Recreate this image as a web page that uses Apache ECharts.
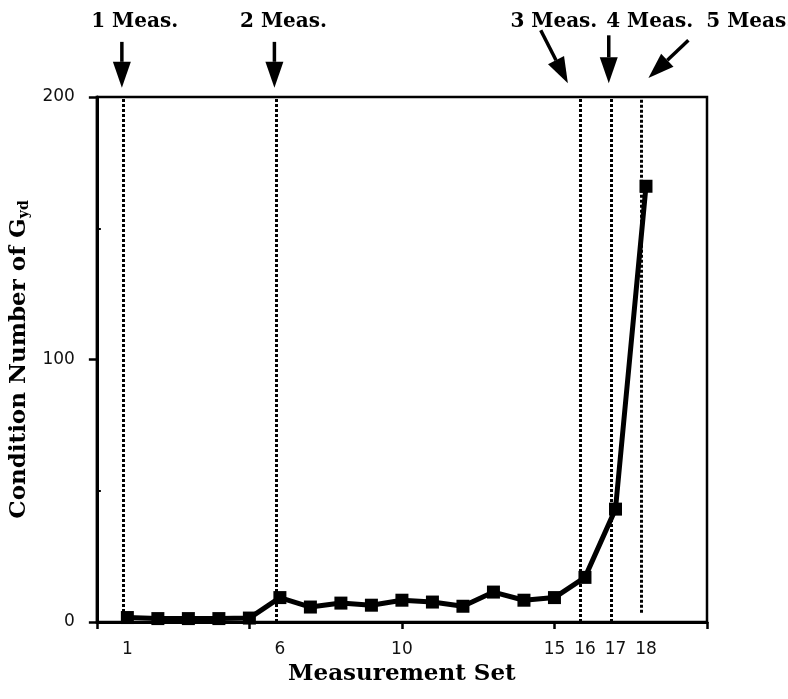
<!DOCTYPE html>
<html>
<head>
<meta charset="utf-8">
<script src="https://cdn.jsdelivr.net/npm/echarts@6/dist/echarts.min.js"></script>
<style>
  html, body { margin: 0; padding: 0; background: #fff; }
  #chart { width: 788px; height: 699px; }
</style>
</head>
<body>
<div id="chart"></div>
<script>
// Measurement sets and the condition number of G_yd for each
const measurementSets = [1, 2, 3, 4, 5, 6, 7, 8, 9, 10, 11, 12, 13, 14, 15, 16, 17, 18];
const conditionNumbers = [1.7, 1.3, 1.3, 1.3, 1.5, 9.3, 5.7, 7.2, 6.4, 8.3, 7.6, 6.0, 11.4, 8.3, 9.3, 17, 43, 166];

// Axis ticks and labels
const xTickLabels = [1, 6, 10, 15, 16, 17, 18];
const xTickMarks = [0, 5, 10, 15, 20];
const yTickLabels = [0, 100, 200];
const yMinorTicks = [50, 150];

// Dashed boundaries where a new measurement is added, with their lower ends
const boundaryX = [0.85, 5.88, 15.85, 16.85, 17.85];
const boundaryBottom = [0, 0, 0, 0, 3.5];

// Annotations above the plot: label, label anchor, arrow tail and arrow head (data units)
const annotationText = ['1 Meas.', '2 Meas.', '3 Meas.', '4 Meas.', '5 Meas.'];
const annotationAt = [[1.24, 228.5], [6.12, 228.5], [14.98, 228.5], [18.12, 228.5], [21.4, 228.5]];
const arrowTail = [[0.82, 221.0], [5.82, 221.0], [14.55, 225.4], [16.78, 223.5], [19.39, 221.6]];
const arrowHead = [[0.82, 203.5], [5.82, 203.5], [15.44, 205.2], [16.78, 205.2], [18.08, 207.2]];

const serif = '"DejaVu Serif", "Liberation Serif", serif';
const sans = '"DejaVu Sans", "Noto Sans", sans-serif';

const chart = echarts.init(document.getElementById('chart'), null, { renderer: 'canvas' });

const boundaryLines = boundaryX.map((x, i) => [
  { coord: [x, boundaryBottom[i]] },
  { coord: [x, 200] }
]);

chart.setOption({
  animation: false,
  backgroundColor: '#fff',
  grid: {
    left: 95, right: 81, top: 97, bottom: 77,
    show: true, borderColor: '#000', borderWidth: 2.5, backgroundColor: 'transparent'
  },
  xAxis: {
    type: 'value', min: 0, max: 20, interval: 5,
    name: 'Measurement Set', nameLocation: 'middle', nameGap: 40,
    nameTextStyle: { fontFamily: serif, fontWeight: 'bold', fontSize: 23, color: '#000' },
    axisLine: { show: true, lineStyle: { color: '#000', width: 3 } },
    axisTick: { show: true, customValues: xTickMarks, length: 7, lineStyle: { color: '#000', width: 2.5 } },
    axisLabel: { customValues: xTickLabels, margin: 19, fontFamily: sans, fontSize: 17, color: '#111' },
    splitLine: { show: false }
  },
  yAxis: [{
    type: 'value', min: 0, max: 200, interval: 100,
    name: '{t|Condition Number of G}{s|yd}', nameLocation: 'middle', nameGap: 44,
    nameTextStyle: {
      rich: {
        t: { fontFamily: serif, fontWeight: 'bold', fontSize: 23, color: '#000' },
        s: { fontFamily: serif, fontWeight: 'bold', fontSize: 14, color: '#000', padding: [10, 0, 0, 0] }
      }
    },
    axisLine: { show: true, lineStyle: { color: '#000', width: 3 } },
    axisTick: { show: true, length: 8, lineStyle: { color: '#000', width: 2.5 } },
    axisLabel: { customValues: yTickLabels, margin: 22, fontFamily: sans, fontSize: 17, color: '#111' },
    splitLine: { show: false }
  }, {
    // small inward ticks at the half-way values
    type: 'value', min: 0, max: 200, position: 'left',
    axisLine: { show: false },
    axisTick: { show: true, inside: true, customValues: yMinorTicks, length: 4, lineStyle: { color: '#000', width: 2 } },
    axisLabel: { show: false },
    splitLine: { show: false }
  }],
  series: [{
    type: 'line',
    data: measurementSets.map((s, i) => [s, conditionNumbers[i]]),
    symbol: 'rect', symbolSize: 13,
    itemStyle: { color: '#000' },
    lineStyle: { color: '#000', width: 5 },
    clip: false,
    z: 3,
    markLine: {
      silent: true, symbol: 'none',
      label: { show: false },
      lineStyle: { color: '#000', width: 3, type: [3, 2] },
      data: boundaryLines,
      z: 2
    }
  }]
});

// Annotations placed through the chart's own coordinate conversion
function toPx(p) { return chart.convertToPixel({ gridIndex: 0 }, p); }

const graphics = [];
annotationText.forEach((txt, i) => {
  const c = toPx(annotationAt[i]);
  graphics.push({
    type: 'text', x: c[0], y: c[1],
    style: { text: txt, fontFamily: serif, fontWeight: 'bold', fontSize: 20, fill: '#000', align: 'center', verticalAlign: 'middle' }
  });
  const t = toPx(arrowTail[i]);
  const h = toPx(arrowHead[i]);
  const dx = h[0] - t[0], dy = h[1] - t[1];
  const len = Math.hypot(dx, dy);
  const ux = dx / len, uy = dy / len;
  const headLen = 26, headHalf = 9;
  const bx = h[0] - ux * headLen, by = h[1] - uy * headLen;
  graphics.push({
    type: 'line',
    shape: { x1: t[0], y1: t[1], x2: bx, y2: by },
    style: { stroke: '#000', lineWidth: 3.5 }
  });
  graphics.push({
    type: 'polygon',
    shape: { points: [[h[0], h[1]], [bx - uy * headHalf, by + ux * headHalf], [bx + uy * headHalf, by - ux * headHalf]] },
    style: { fill: '#000' }
  });
});
chart.setOption({ graphic: graphics });
</script>
</body>
</html>
